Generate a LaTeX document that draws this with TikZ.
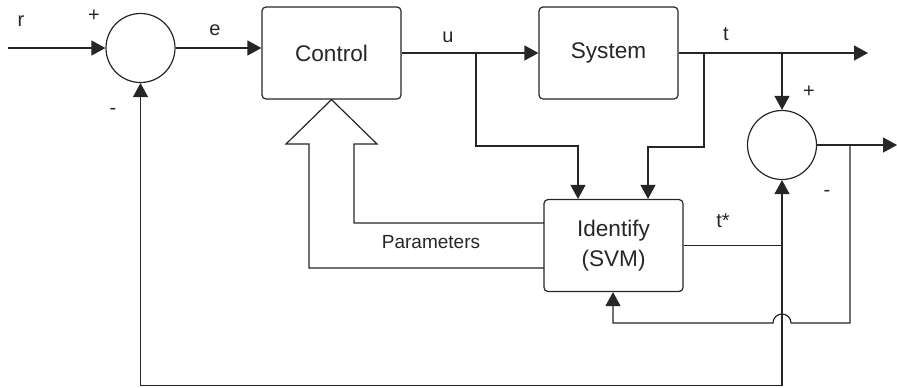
\documentclass[tikz,border=0pt]{standalone}
\usepackage{fontspec}
\setmainfont{Liberation Sans}
\usetikzlibrary{arrows.meta}

\tikzset{
  blk/.style={draw, rounded corners=2pt, minimum width=69.5pt, minimum height=46pt,
    align=center, font=\fontsize{11.3}{15}\selectfont},
  sumc/.style={draw, circle, minimum size=34.5pt, inner sep=0pt},
  sig/.style={-{Triangle[length=7pt,width=7.5pt]}},
  lbl/.style={font=\fontsize{10}{12}\selectfont}
}

\begin{document}
\begin{tikzpicture}[x=0.5pt, y=-0.5pt, line width=0.6pt, color=black!85]
\useasboundingbox (0,0) rectangle (897,387);

% blocks
\node[sumc] (sum1) at (140.5,48) {};
\node[blk] (ctrl) at (331.5,53) {Control};
\node[blk] (sys) at (608.5,53) {System};
\node[blk] (ident) at (613.5,245.5) {Identify\\(SVM)};
\node[sumc] (sum2) at (782,145) {};

% free ends and branch points
\coordinate (rin) at (8,48);
\coordinate (ubr) at (476,53);
\coordinate (ua) at (578,146);
\coordinate (tbr) at (704,53);
\coordinate (ta) at (648,147);
\coordinate (tout) at (868,53);
\coordinate (eout) at (897,145);
\coordinate (ebr) at (850,145);
\coordinate (ia) at (613,323);
\coordinate (fb) at (782,385.5);

% forward path
\draw[sig] (rin) -- (sum1.west);
\draw[sig] (sum1.east) -- (ctrl.west |- sum1.east);
\draw[sig] (ctrl.east) -- (sys.west);
\draw[sig] (sys.east) -- (tout);

% into the identifier
\draw[sig] (ubr) |- (ua) -- (ua |- ident.north);
\draw[sig] (tbr) |- (ta) -- (ta |- ident.north);

% error
\draw[sig] (sum2 |- sys.east) -- (sum2.north);
\draw[sig] (sum2.east) -- (eout);
\draw[sig] (ebr) |- (791,323) arc[start angle=0, end angle=-180, radius=9] -- (ia) -- (ia |- ident.south);

% model output and feedback
\draw (ident.east) -- (sum2 |- ident.east);
\draw[sig] (fb) -- (sum2.south);
\draw[sig] (fb) -| (sum1.south);

% parameters
\draw (544,223) -- (354,223) -- (354,144) -- (377,144) -- (ctrl.south)
  -- (286,144) -- (309,144) -- (309,268) -- (544,268);

% labels
\node[lbl] (lr) at (21,21) {r};
\node[lbl] (lp1) at (94,16) {+};
\node[lbl] (le) at (215,30) {e};
\node[lbl] (lm1) at (113,111) {-};
\node[lbl] (lu) at (448,37) {u};
\node[lbl] (lt) at (726,34) {t};
\node[lbl] (lp2) at (809,92) {+};
\node[lbl] (lm2) at (827,193) {-};
\node[lbl] (lts) at (723,221) {t*};
\node[lbl, font=\fontsize{9.5}{11}\selectfont] (lpar) at (431,242) {Parameters};

\end{tikzpicture}
\end{document}
